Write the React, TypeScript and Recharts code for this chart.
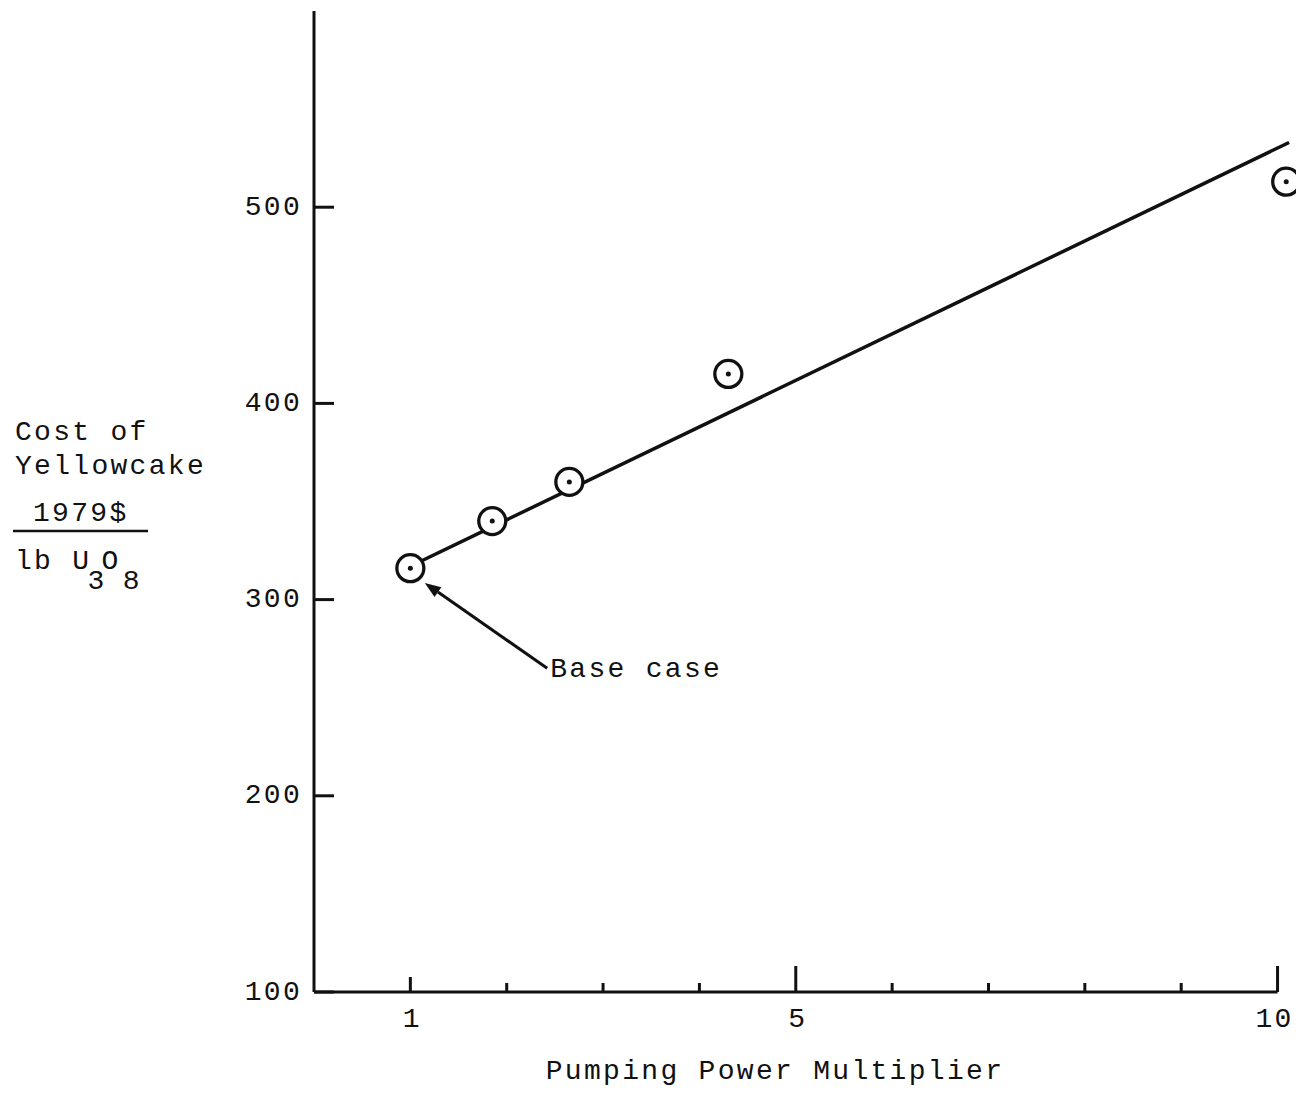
import React from "react";
import {
  ComposedChart,
  XAxis,
  YAxis,
  Line,
  Scatter,
  ReferenceLine,
  Customized,
} from "recharts";

// values
const pumpingMultiplier = [1, 1.85, 2.65, 4.3, 10.09];
const yellowcakeCost = [316, 340, 360, 415, 513];
const fitMultiplier = [1, 10.12];
const fitCost = [317, 533];
const xTicks = [1, 2, 3, 4, 5, 6, 7, 8, 9, 10];
const xLabelTicks = [1, 5, 10];
const yTicks = [100, 200, 300, 400, 500];
const baseCaseTail = { x: 2.42, y: 265 };
const baseCaseTip = { x: 1.15, y: 308.5 };

const FONT = "'Liberation Mono', 'DejaVu Sans Mono', monospace";
const INK = "#111";

const points = pumpingMultiplier.map((x, i) => ({ x, y: yellowcakeCost[i] }));
const fitLine = fitMultiplier.map((x, i) => ({ x, y: fitCost[i] }));

const textStyle = { fontFamily: FONT, fontSize: 28, letterSpacing: 2.3, fill: INK };

const XTick = (props: any) => {
  const { x, y, payload } = props;
  const v = payload.value;
  const len = v === 5 || v === 10 ? 26 : v === 1 ? 15 : 9;
  return (
    <g>
      <line x1={x} x2={x} y1={y} y2={y - len} stroke={INK} strokeWidth={3} />
      {xLabelTicks.includes(v) && (
        <text
          x={v === 10 ? x - 3 : x + 2}
          y={y + 27}
          textAnchor="middle"
          dominantBaseline="central"
          {...textStyle}
        >
          {v}
        </text>
      )}
    </g>
  );
};

const YTick = (props: any) => {
  const { x, y, payload } = props;
  return (
    <g>
      <line x1={x} x2={x + 20} y1={y} y2={y} stroke={INK} strokeWidth={3} />
      <text x={x - 12} y={y} textAnchor="end" dominantBaseline="central" {...textStyle}>
        {payload.value}
      </text>
    </g>
  );
};

const Marker = (props: any) => {
  const { cx, cy } = props;
  return (
    <g>
      <circle cx={cx} cy={cy} r={13.5} fill="#fff" stroke={INK} strokeWidth={3.3} />
      <circle cx={cx} cy={cy} r={2.5} fill={INK} />
    </g>
  );
};

const Arrow = (props: any) => {
  const { x1, y1, x2, y2 } = props;
  const ang = Math.atan2(y2 - y1, x2 - x1);
  const len = 16;
  const half = 6;
  const bx = x2 - len * Math.cos(ang);
  const by = y2 - len * Math.sin(ang);
  const px = -Math.sin(ang) * half;
  const py = Math.cos(ang) * half;
  return (
    <g>
      <line x1={x1} y1={y1} x2={bx} y2={by} stroke={INK} strokeWidth={3} />
      <polygon
        points={`${x2},${y2} ${bx + px},${by + py} ${bx - px},${by - py}`}
        fill={INK}
      />
      <text x={x1 + 3} y={y1 + 1} dominantBaseline="central" {...textStyle}>
        Base case
      </text>
    </g>
  );
};

const AxisTitles = () => (
  <g>
    <text x={15} y={432} dominantBaseline="central" {...textStyle}>
      Cost of
    </text>
    <text x={15} y={466} dominantBaseline="central" {...textStyle}>
      Yellowcake
    </text>
    <text x={33} y={513} dominantBaseline="central" {...textStyle}>
      1979$
    </text>
    <line x1={13} x2={148} y1={531} y2={531} stroke={INK} strokeWidth={2.5} />
    <text x={15} y={561} dominantBaseline="central" {...textStyle}>
      lb U<tspan dy={20} dx={-4}>3</tspan>
      <tspan dy={-20} dx={-5}>O</tspan>
      <tspan dy={20} dx={2}>8</tspan>
    </text>
    <text x={775} y={1071} textAnchor="middle" dominantBaseline="central" {...textStyle}>
      Pumping Power Multiplier
    </text>
  </g>
);

export default function App() {
  // pull the chart over the body margin so it covers the whole 1304x1095 page
  return (
    <div style={{ width: 1304, height: 1095, margin: "-8px -8px -8px -8px" }}>
      <ComposedChart
        width={1304}
        height={1095}
        margin={{ top: 11, right: 12, left: 14, bottom: 0 }}
        style={{ background: "#fff" }}
      >
        <XAxis
          type="number"
          dataKey="x"
          domain={[0, 10.15]}
          ticks={xTicks}
          axisLine={false}
          tickLine={false}
          tickSize={0}
          tickMargin={0}
          tick={<XTick />}
          height={103}
        />
        <YAxis
          type="number"
          dataKey="y"
          domain={[100, 600]}
          ticks={yTicks}
          width={300}
          axisLine={{ stroke: INK, strokeWidth: 3 }}
          tickLine={false}
          tickSize={0}
          tickMargin={0}
          tick={<YTick />}
        />
        <ReferenceLine
          segment={[
            { x: 0, y: 100 },
            { x: 10, y: 100 },
          ]}
          stroke={INK}
          strokeWidth={3}
          ifOverflow="visible"
        />
        <Line
          data={fitLine}
          dataKey="y"
          stroke={INK}
          strokeWidth={3.5}
          dot={false}
          activeDot={false}
          isAnimationActive={false}
        />
        <Scatter data={points} dataKey="y" shape={<Marker />} isAnimationActive={false} />
        <ReferenceLine
          segment={[baseCaseTail, baseCaseTip]}
          shape={<Arrow />}
          ifOverflow="visible"
        />
        <Customized component={AxisTitles} />
      </ComposedChart>
    </div>
  );
}
